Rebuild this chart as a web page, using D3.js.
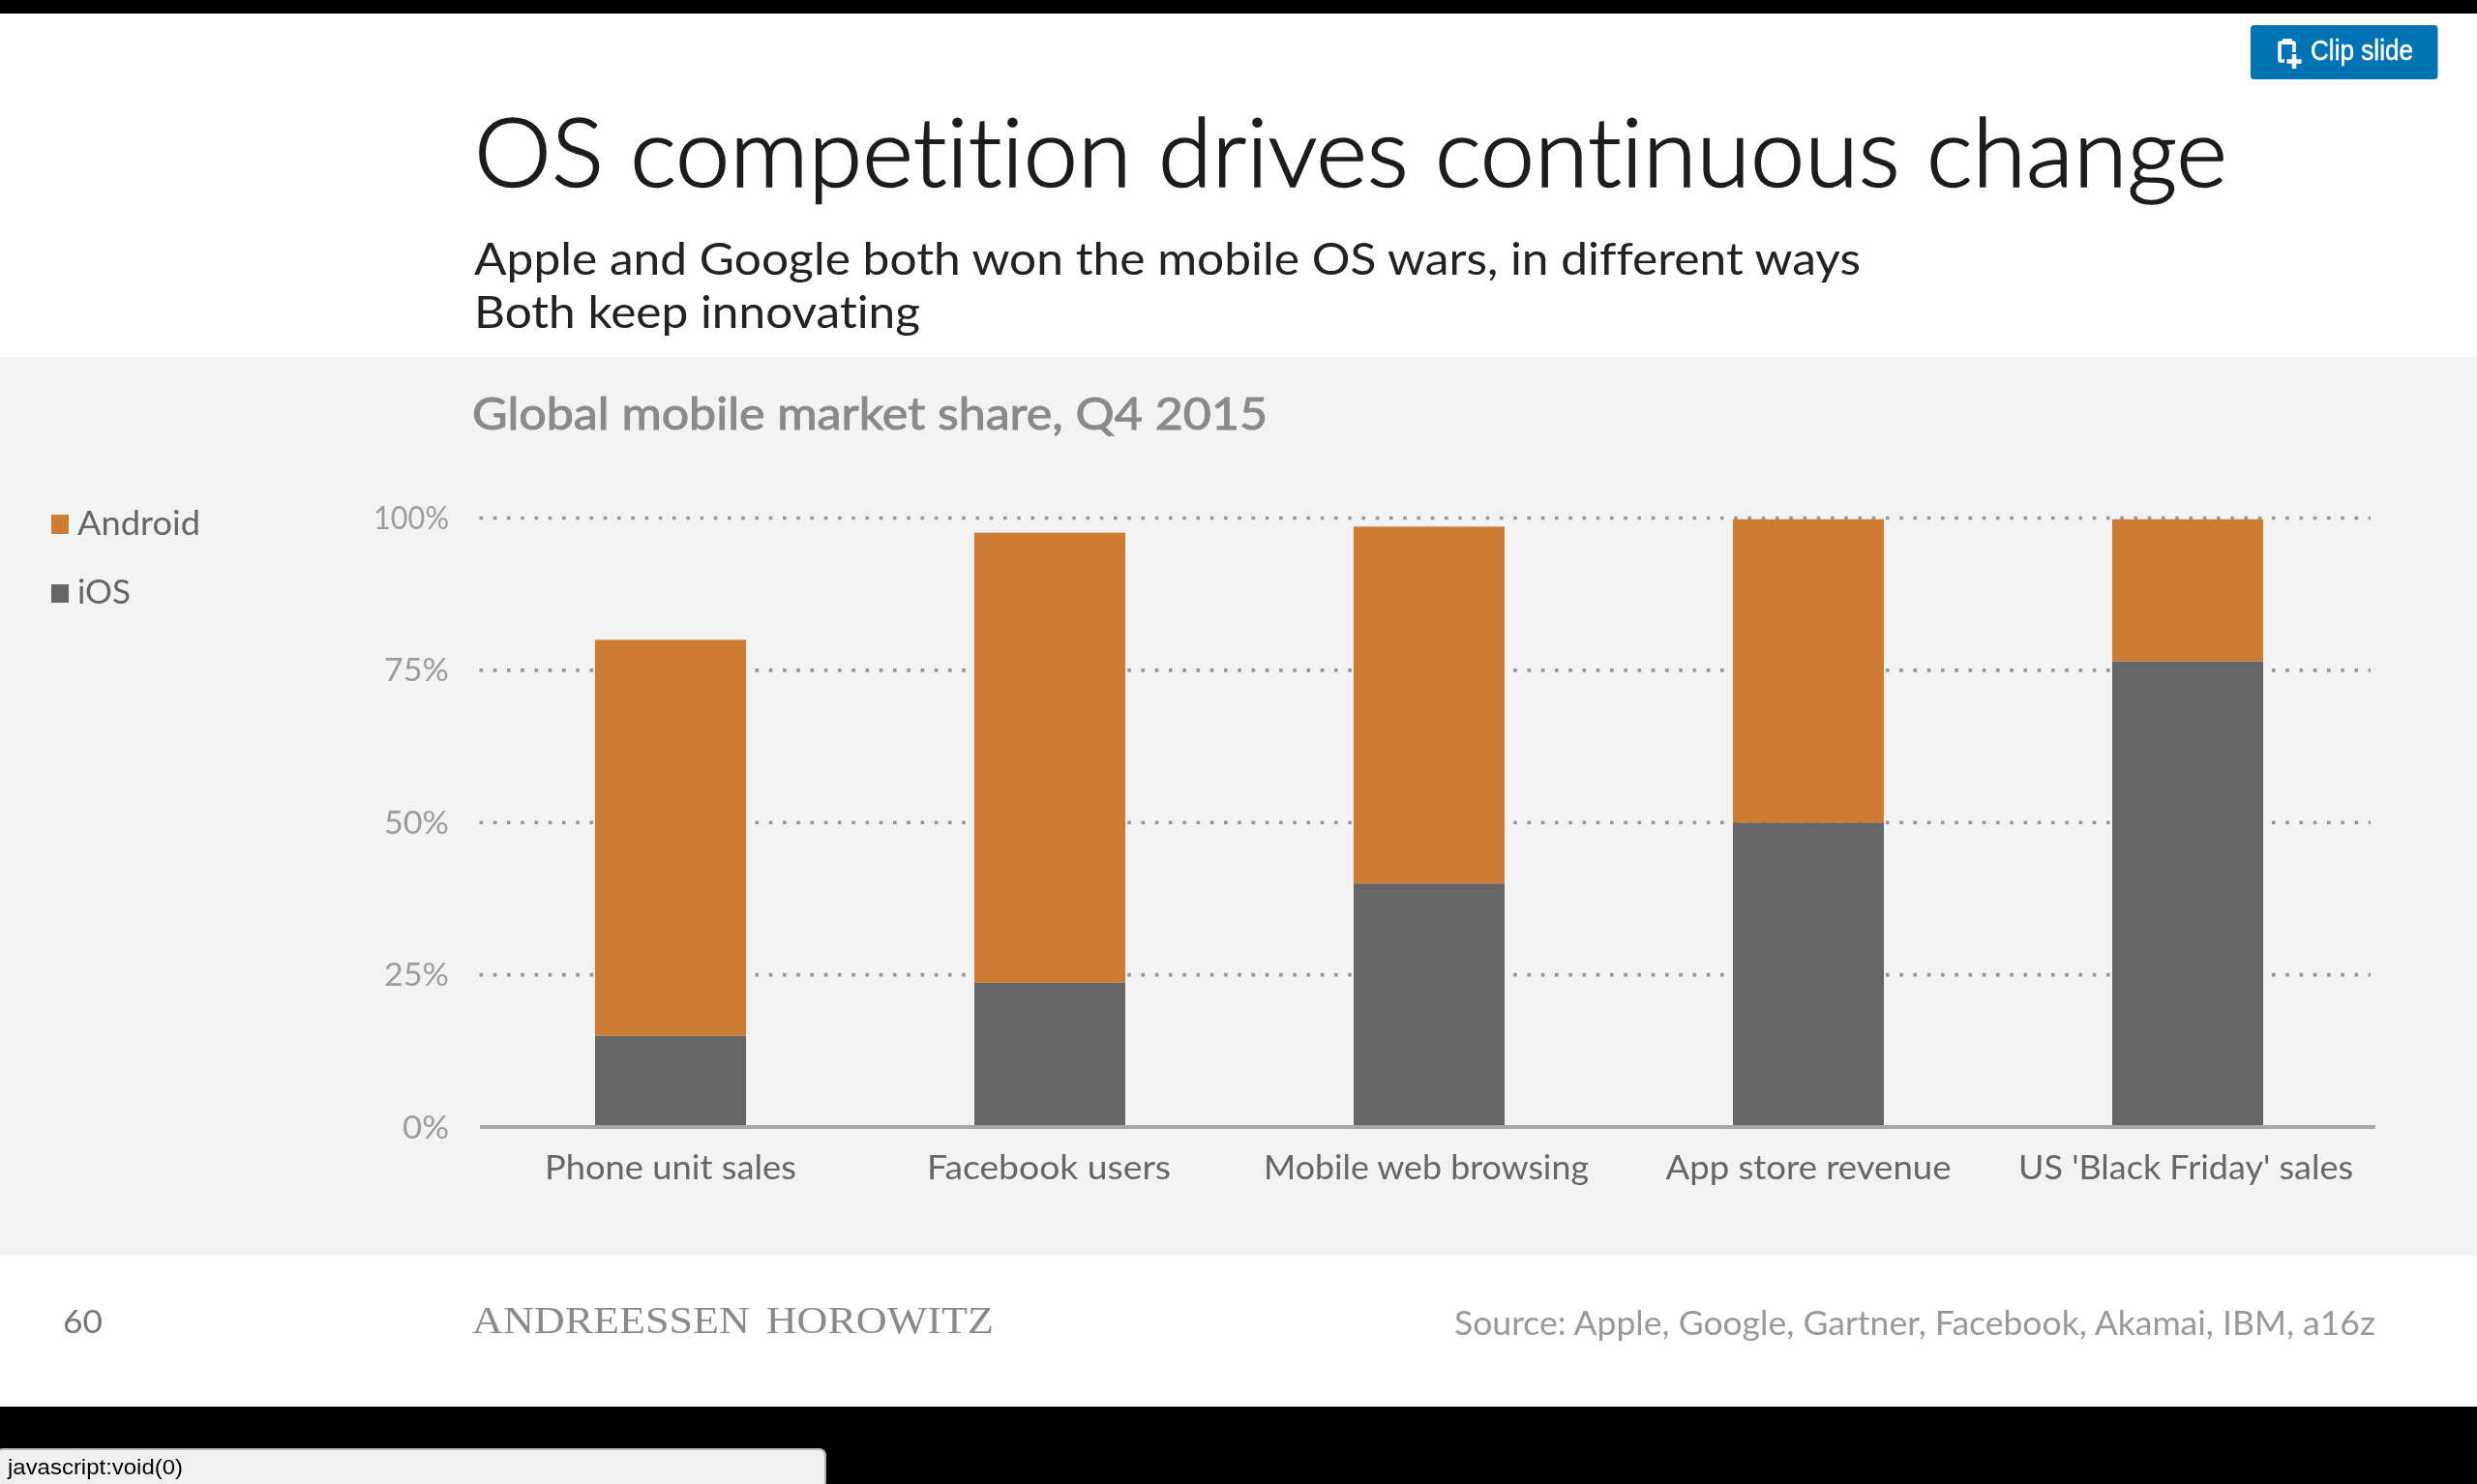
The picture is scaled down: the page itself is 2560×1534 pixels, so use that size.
<!DOCTYPE html>
<html><head><meta charset="utf-8">
<script src="https://cdn.jsdelivr.net/npm/d3@7"></script>
<style>
html,body{margin:0;padding:0;background:#000;}
svg{display:block;}
text{font-family:Lato,"Open Sans",sans-serif;font-variant-ligatures:none;}
</style></head><body>
<svg id="c" width="2560" height="1534"></svg>
<script>
const categories = ["Phone unit sales","Facebook users","Mobile web browsing","App store revenue","US 'Black Friday' sales"];
const iosValues = [15, 23.7, 40, 50, 76.5];
const androidValues = [65, 73.9, 58.6, 49.8, 23.3];
const seriesNames = ["Android","iOS"];
const yTicks = [0,25,50,75,100];

const svg = d3.select("#c");
svg.append("defs").append("filter").attr("id","soft")
  .attr("x",0).attr("y",0).attr("width",1).attr("height",1)
  .append("feGaussianBlur").attr("stdDeviation",0.6);
const root = svg.append("g");

root.append("rect").attr("width",2560).attr("height",1534).attr("fill","#000");
root.append("rect").attr("y",14).attr("width",2560).attr("height",1440).attr("fill","#fff");
root.append("rect").attr("y",369).attr("width",2560).attr("height",929).attr("fill","#f3f3f3");

function put(g,str,x,y,size,fill,width,o={}){
  const t=g.append("text").attr("x",x).attr("y",y).attr("font-size",size).attr("fill",fill)
    .attr("font-weight",o.weight||400).text(str);
  if(o.family) t.style("font-family",o.family);
  if(o.stroke){t.attr("stroke",fill).attr("stroke-width",o.stroke);}
  if(o.wordSpacing) t.style("word-spacing",o.wordSpacing+"px");
  if(width){t.attr("textLength",width).attr("lengthAdjust","spacingAndGlyphs");}
  return t;
}

put(root,"OS competition drives continuous change",490,193,99,"#1c1c1c",1812,{weight:300,stroke:1.6});
put(root,"Apple and Google both won the mobile OS wars, in different ways",490,284,47,"#222",1433);
put(root,"Both keep innovating",490,339,47,"#222",461);
put(root,"Global mobile market share, Q4 2015",488,444,46,"#8a8a8a",822,{stroke:1});

const y = d3.scaleLinear().domain([0,100]).range([1165,535.5]);
const x = d3.scaleBand().domain(categories).range([497,2457]).paddingInner(0.602).paddingOuter(0.301);

const grid = root.append("g");
grid.selectAll("line").data(yTicks.filter(d=>d>0)).join("line")
  .attr("x1",495.5).attr("x2",2450).attr("y1",d=>y(d)).attr("y2",d=>y(d))
  .attr("stroke","#969696").attr("stroke-width",3.6).attr("stroke-dasharray","3.6 10.65");

const yAxis = root.append("g").attr("transform","translate(464,0)")
  .call(d3.axisLeft(y).tickValues(yTicks).tickSize(0).tickPadding(0).tickFormat(d=>d+"%"));
yAxis.select(".domain").remove();
yAxis.selectAll("text").attr("font-size",33).attr("fill","#9c9c9c")
  .attr("dy",0).attr("y",11)
  .attr("textLength",d=>d===100?78:d===0?48:67).attr("lengthAdjust","spacingAndGlyphs");

const stack = d3.stack().keys(["ios","android"])(categories.map((c,i)=>({c,ios:iosValues[i],android:androidValues[i]})));
const colors = {ios:"#666666",android:"#ce7c33"};
root.append("g").selectAll("g").data(stack).join("g").attr("fill",d=>colors[d.key])
  .selectAll("rect").data(d=>d).join("rect")
  .attr("x",d=>x(d.data.c)).attr("width",x.bandwidth())
  .attr("y",d=>y(d[1])).attr("height",d=>y(d[0])-y(d[1]));

const xAxis = root.append("g").attr("transform","translate(0,1165)")
  .call(d3.axisBottom(x).tickSize(0).tickPadding(0));
xAxis.select(".domain").remove();
const labelFit = [[260,0],[252,-1],[336,-3],[295,0],[346,-2]];
xAxis.selectAll("text").attr("font-size",34).attr("fill","#666").attr("y",54).attr("dy",0)
  .attr("x",(d,i)=>labelFit[i][1])
  .attr("textLength",(d,i)=>labelFit[i][0]).attr("lengthAdjust","spacingAndGlyphs");
root.append("line").attr("x1",496).attr("x2",2455).attr("y1",1165).attr("y2",1165)
  .attr("stroke","#a8a8a8").attr("stroke-width",4);

const swatch = {Android:"#ce7c33",iOS:"#666666"};
const legendBox = {Android:[532,552],iOS:[604,623]};
const legendWidth = {Android:127,iOS:55};
seriesNames.forEach(n=>{
  root.append("rect").attr("x",53).attr("y",legendBox[n][0]).attr("width",18)
    .attr("height",legendBox[n][1]-legendBox[n][0]).attr("fill",swatch[n]);
  put(root,n,80,legendBox[n][1]+1,34,"#666",legendWidth[n]);
});

put(root,"60",65,1378,33,"#777",41);
put(root,"ANDREESSEN HOROWITZ",488,1378,39,"#8a8a8a",539,{family:'"Liberation Serif",serif',wordSpacing:5});
put(root,"Source: Apple, Google, Gartner, Facebook, Akamai, IBM, a16z",1503,1380,34,"#999",952);

root.append("rect").attr("x",2326).attr("y",26).attr("width",193.5).attr("height",56).attr("rx",4).attr("fill","#0673b5");
const icon = root.append("g");
icon.append("rect").attr("x",2356).attr("y",44).attr("width",15).attr("height",19).attr("rx",1)
  .attr("fill","none").attr("stroke","#fff").attr("stroke-width",3.6);
icon.append("rect").attr("x",2359).attr("y",40).attr("width",10).attr("height",6).attr("fill","#fff");
icon.append("rect").attr("x",2361).attr("y",54).attr("width",18).attr("height",16).attr("fill","#0673b5");
icon.append("path").attr("d","M2371 56v15M2363.5 63.5h15").attr("stroke","#fff").attr("stroke-width",4.5).attr("fill","none");
put(root,"Clip slide",2388,62,29,"#fff",106,{family:'"Liberation Sans",sans-serif',stroke:0.5});

root.append("rect").attr("x",-3).attr("y",1498).attr("width",856).attr("height",40).attr("rx",6)
  .attr("fill","#f0f0f0").attr("stroke","#b5b5b5").attr("stroke-width",2);
put(root,"javascript:void(0)",8,1524,22,"#000",181,{family:'"Liberation Sans",sans-serif'});

root.attr("filter","url(#soft)");
</script>
</body></html>
